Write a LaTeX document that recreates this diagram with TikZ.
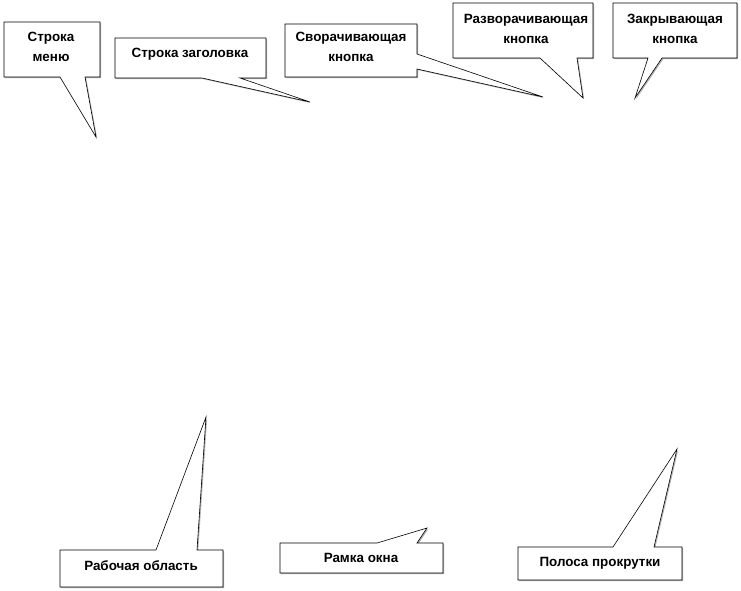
\documentclass[tikz,border=0pt]{standalone}
\usepackage{fontspec}
\setmainfont{Liberation Sans}
\usetikzlibrary{shadows}
\tikzset{
  callout/.style={draw=black, line width=0.6pt, fill=white,
    drop shadow={shadow xshift=1.2pt, shadow yshift=-1.2pt, fill=gray!60, opacity=1}},
  lbl/.style={font=\fontsize{13.4}{19.5}\selectfont\bfseries, align=center},
}
\begin{document}
\begin{tikzpicture}[x=1pt,y=-1pt]
  \useasboundingbox (0,0) rectangle (741,590);
  % top row
  \draw[callout] (4,22) -- (100,22) -- (100,77) -- (85,77) -- (96,137) -- (60,77) -- (4,77) -- cycle;
  \node[lbl] (menu) at (51,47) {Строка\\меню};
  \draw[callout] (115,38) -- (266,38) -- (266,78) -- (240,78) -- (310,102) -- (202,78) -- (115,78) -- cycle;
  \node[lbl] (title) at (190,54) {Строка заголовка};
  \draw[callout] (285,24) -- (417,24) -- (417,54) -- (543,97) -- (417,69) -- (417,77) -- (285,77) -- cycle;
  \node[lbl] (minbtn) at (351,47) {Сворачивающая\\кнопка};
  \draw[callout] (453,3) -- (593,3) -- (593,58) -- (577,58) -- (583,98) -- (540,58) -- (453,58) -- cycle;
  \node[lbl] (maxbtn) at (526,29) {Разворачивающая\\кнопка};
  \draw[callout] (613,3) -- (737,3) -- (737,58) -- (662,58) -- (635,98) -- (648,58) -- (613,58) -- cycle;
  \node[lbl] (closebtn) at (675,29) {Закрывающая\\кнопка};
  % bottom row
  \draw[callout] (60,550) -- (156,550) -- (206,417) -- (197,550) -- (223,550) -- (223,587) -- (60,587) -- cycle;
  \node[lbl] (work) at (141,566) {Рабочая область};
  \draw[callout] (280,543) -- (377,543) -- (427,528) -- (417,543) -- (443,543) -- (443,573) -- (280,573) -- cycle;
  \node[lbl] (frame) at (361,558) {Рамка окна};
  \draw[callout] (518,547) -- (613,547) -- (677,449) -- (654,547) -- (682,547) -- (682,580) -- (518,580) -- cycle;
  \node[lbl] (scroll) at (600,563) {Полоса прокрутки};
\end{tikzpicture}
\end{document}
